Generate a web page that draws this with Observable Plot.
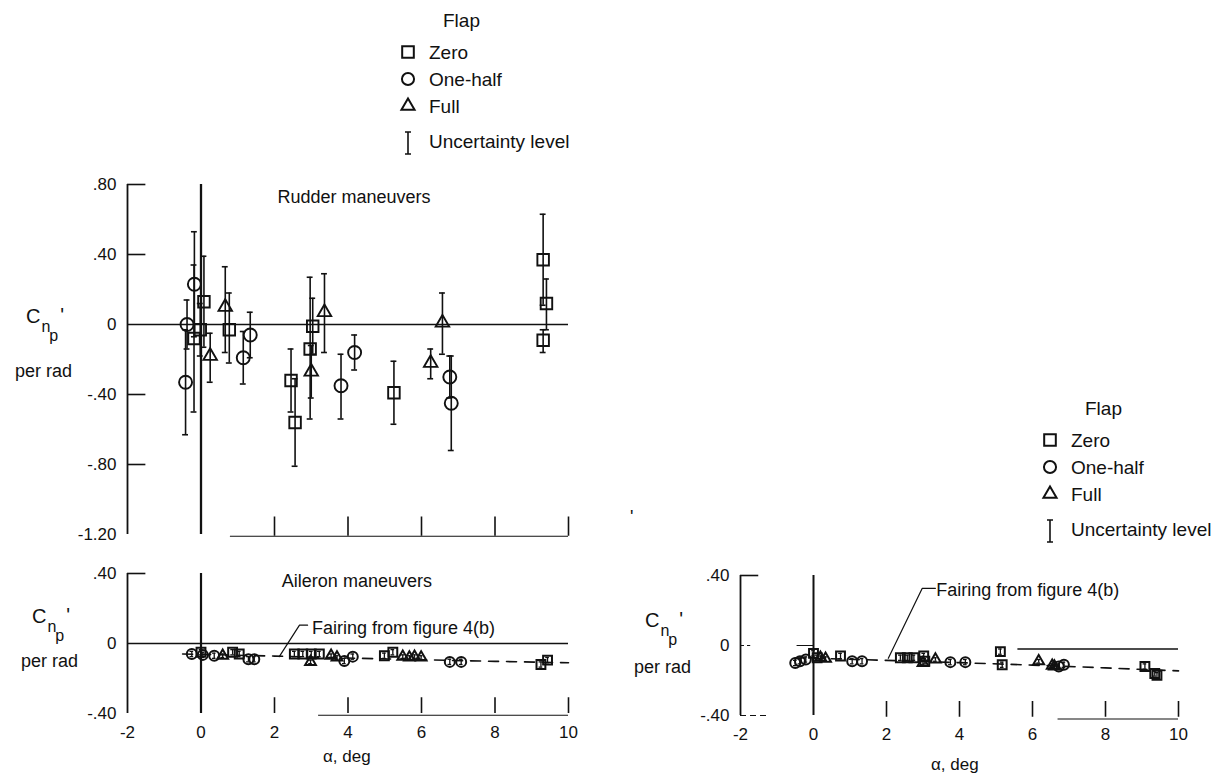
<!DOCTYPE html>
<html><head><meta charset="utf-8">
<script src="https://cdn.jsdelivr.net/npm/d3@7"></script>
<script src="https://cdn.jsdelivr.net/npm/@observablehq/plot@0.6"></script>
<style>
body{margin:0;background:#fff;}
#page{position:relative;width:1220px;height:776px;overflow:hidden;background:#fff;font-family:"Liberation Sans",Arial,sans-serif;color:#111;}
.abs{position:absolute;white-space:nowrap;line-height:1;}
</style></head><body><div id="page"></div>
<script>
// ---------- data ----------
const xTickValues = [-2, 0, 2, 4, 6, 8, 10];
const xTickLabels = ["-2", "0", "2", "4", "6", "8", "10"];
const yTopValues = [0.8, 0.4, 0, -0.4, -0.8, -1.2];
const yTopLabels = [".80", ".40", "0", "-.40", "-.80", "-1.20"];
const yBotValues = [0.4, 0, -0.4];
const yBotLabels = [".40", "0", "-.40"];
const flapNames = ["Zero", "One-half", "Full"];

// Rudder maneuvers: [alpha, Cnp, low, high]
const rudderZero = [
  [0.08, 0.13, -0.13, 0.39], [-0.19, -0.08, -0.50, 0.34], [-0.02, -0.03, -0.18, 0.12],
  [0.77, -0.03, -0.22, 0.18], [2.45, -0.32, -0.50, -0.14], [2.56, -0.56, -0.81, -0.31],
  [2.97, -0.14, -0.54, 0.27], [3.04, -0.01, -0.17, 0.15], [5.25, -0.39, -0.57, -0.21],
  [9.31, 0.37, 0.11, 0.63], [9.40, 0.12, -0.03, 0.26], [9.31, -0.09, -0.16, -0.03]
];
const rudderHalf = [
  [-0.38, 0.00, -0.14, 0.14], [-0.42, -0.33, -0.63, -0.03], [-0.18, 0.23, -0.07, 0.53],
  [1.15, -0.19, -0.34, -0.04], [1.34, -0.06, -0.19, 0.07], [3.81, -0.35, -0.54, -0.17],
  [4.18, -0.16, -0.26, -0.06], [6.77, -0.30, -0.42, -0.18], [6.81, -0.45, -0.72, -0.18]
];
const rudderFull = [
  [0.25, -0.18, -0.33, -0.05], [0.66, 0.10, -0.16, 0.33], [3.00, -0.27, -0.42, -0.12],
  [3.36, 0.07, -0.16, 0.29], [6.25, -0.22, -0.31, -0.14], [6.57, 0.01, -0.17, 0.18]
];

// Aileron maneuvers (left panel)
const aileronZero = [
  [0.00, -0.05, -0.065, -0.035], [0.86, -0.05, -0.065, -0.035], [1.04, -0.06, -0.075, -0.045],
  [2.54, -0.06, -0.075, -0.045], [2.77, -0.06, -0.075, -0.045], [3.00, -0.06, -0.075, -0.045],
  [3.22, -0.06, -0.075, -0.045], [4.99, -0.07, -0.085, -0.055], [5.22, -0.05, -0.065, -0.035],
  [9.25, -0.12, -0.135, -0.105], [9.43, -0.095, -0.11, -0.08]
];
const aileronHalf = [
  [-0.25, -0.06, -0.075, -0.045], [0.05, -0.065, -0.08, -0.05], [0.36, -0.07, -0.085, -0.055],
  [1.29, -0.09, -0.105, -0.075], [1.45, -0.09, -0.105, -0.075], [3.90, -0.10, -0.115, -0.085],
  [4.13, -0.075, -0.09, -0.06], [6.77, -0.105, -0.12, -0.09], [7.08, -0.105, -0.12, -0.09]
];
const aileronFull = [
  [0.59, -0.07, -0.08, -0.06], [2.98, -0.105, -0.115, -0.095], [3.54, -0.07, -0.08, -0.06],
  [3.70, -0.08, -0.09, -0.07], [5.49, -0.075, -0.085, -0.065], [5.67, -0.08, -0.09, -0.07],
  [5.81, -0.075, -0.085, -0.065], [5.99, -0.08, -0.09, -0.07]
];

// Aileron maneuvers (right panel)
const aileron2Zero = [
  [0.00, -0.045, -0.06, -0.03], [0.10, -0.07, -0.085, -0.055], [0.74, -0.06, -0.075, -0.045],
  [2.38, -0.07, -0.085, -0.055], [2.57, -0.07, -0.085, -0.055], [2.75, -0.07, -0.085, -0.055],
  [3.02, -0.06, -0.075, -0.045], [3.05, -0.09, -0.105, -0.075], [5.12, -0.035, -0.05, -0.02],
  [5.17, -0.11, -0.125, -0.095], [9.08, -0.12, -0.135, -0.105], [9.35, -0.16, -0.175, -0.145],
  [9.41, -0.17, -0.185, -0.155]
];
const aileron2Half = [
  [-0.50, -0.10, -0.115, -0.085], [-0.37, -0.09, -0.105, -0.075], [-0.21, -0.08, -0.095, -0.065],
  [1.06, -0.09, -0.105, -0.075], [1.33, -0.09, -0.105, -0.075], [3.75, -0.095, -0.11, -0.08],
  [4.16, -0.095, -0.11, -0.08], [6.72, -0.12, -0.135, -0.105], [6.86, -0.11, -0.125, -0.095]
];
const aileron2Full = [
  [0.19, -0.07, -0.08, -0.06], [0.33, -0.075, -0.085, -0.065], [3.00, -0.10, -0.11, -0.09],
  [3.34, -0.08, -0.09, -0.07], [6.17, -0.09, -0.10, -0.08], [6.54, -0.115, -0.125, -0.105],
  [6.60, -0.12, -0.13, -0.11]
];

// Fairing from figure 4(b)
const fairingAlpha = [-0.5, 0, 2, 4, 6, 8, 10];
const fairingLeft = [-0.060, -0.062, -0.072, -0.083, -0.093, -0.102, -0.110];
const fairingRight = [-0.070, -0.073, -0.085, -0.098, -0.112, -0.128, -0.145];

// ---------- helpers ----------
const FONT = '"Liberation Sans", Arial, sans-serif';
const INK = "#111";
const page = document.getElementById("page");

function fmt(values, labels) { return d => { const i = values.findIndex(v => Math.abs(v - d) < 1e-9); return i < 0 ? "" : labels[i]; }; }

function errorBars(rows, capW, sw) {
  return [
    Plot.ruleX(rows, {x: d => d[0], y1: d => d[2], y2: d => d[3], stroke: INK, strokeWidth: sw}),
    Plot.ruleY(rows, {y: d => d[2], x1: d => d[0] - capW, x2: d => d[0] + capW, stroke: INK, strokeWidth: sw}),
    Plot.ruleY(rows, {y: d => d[3], x1: d => d[0] - capW, x2: d => d[0] + capW, stroke: INK, strokeWidth: sw})
  ];
}
function symbols(rows, symbol, r, sw) {
  return Plot.dot(rows, {x: d => d[0], y: d => d[1], symbol, r, stroke: INK, fill: "none", strokeWidth: sw});
}
function panel(o) {
  const svg = Plot.plot({
    width: o.width, height: o.height,
    marginLeft: o.mL, marginRight: o.mR, marginTop: o.mT, marginBottom: o.mB,
    style: {fontFamily: FONT, fontSize: "17px", color: INK, background: "transparent", overflow: "visible"},
    x: Object.assign({domain: [-2, 10]}, o.showX
      ? {ticks: xTickValues, tickFormat: fmt(xTickValues, xTickLabels), tickSize: 0, tickPadding: 12, label: null}
      : {axis: null}),
    y: {domain: o.yDomain, ticks: o.yValues, tickFormat: fmt(o.yValues, o.yLabels), tickSize: 0, tickPadding: 11, label: null},
    marks: o.marks
  });
  svg.style.position = "absolute";
  svg.style.left = o.left + "px";
  svg.style.top = o.top + "px";
  page.appendChild(svg);
}
function addText(txt, left, top, size, extra) {
  const d = document.createElement("div");
  d.className = "abs";
  d.textContent = txt;
  d.style.left = left + "px"; d.style.top = top + "px"; d.style.fontSize = size + "px";
  if (extra) Object.assign(d.style, extra);
  page.appendChild(d);
  return d;
}
function yTitle(left, top, gap) {
  const d = document.createElement("div");
  d.className = "abs";
  d.style.left = left + "px"; d.style.top = top + "px"; d.style.fontSize = "20px";
  d.innerHTML = 'C<span style="font-size:16px;position:relative;top:9px;margin-left:1px">n</span>' +
    '<span style="font-size:16px;position:relative;top:18px;margin-left:-1px">p</span>' +
    '<span style="position:relative;top:-1px;margin-left:2px">\'</span>';
  page.appendChild(d);
  addText("per rad", left - 11, top + gap, 18);
}
function legend(left, top) {
  const rowY = [14, 41, 68];
  addText("Flap", left + 35, top - 41, 19);
  const syms = [d3.symbolSquare, d3.symbolCircle, d3.symbolTriangle];
  const sizes = [135, 115, 75];
  const ns = "http://www.w3.org/2000/svg";
  const svg = document.createElementNS(ns, "svg");
  svg.setAttribute("width", 30); svg.setAttribute("height", 130);
  svg.style.position = "absolute"; svg.style.left = (left - 15) + "px"; svg.style.top = (top - 14) + "px";
  flapNames.forEach((name, i) => {
    const p = document.createElementNS(ns, "path");
    p.setAttribute("d", d3.symbol(syms[i], sizes[i])());
    p.setAttribute("transform", `translate(15,${rowY[i]})`);
    p.setAttribute("fill", "none"); p.setAttribute("stroke", INK); p.setAttribute("stroke-width", 2);
    svg.appendChild(p);
    addText(name, left + 21, top - 14 + rowY[i] - 9.5, 19);
  });
  const bar = document.createElementNS(ns, "path");
  bar.setAttribute("d", "M15,94V116M12,94H18M12,116H18");
  bar.setAttribute("stroke", INK); bar.setAttribute("stroke-width", 1.6); bar.setAttribute("fill", "none");
  svg.appendChild(bar);
  page.appendChild(svg);
  addText("Uncertainty level", left + 21, top + 80, 19);
}

// ---------- top panel: rudder maneuvers ----------
const innerTicksTop = [0.8, 0.4, -0.4, -0.8];
const bottomTicks = [2, 4, 6, 8, 10];
panel({
  left: 0, top: 160, width: 600, height: 400, mL: 127, mR: 32, mT: 24, mB: 26,
  yDomain: [-1.2, 0.8], yValues: yTopValues, yLabels: yTopLabels, showX: false,
  marks: [
    Plot.ruleX([-2], {y1: -1.2, y2: 0.8, stroke: INK, strokeWidth: 1.8}),
    Plot.ruleY(innerTicksTop, {x1: -2, x2: -1.5, stroke: INK, strokeWidth: 1.6}),
    Plot.ruleY([0], {x1: -2, x2: 10, stroke: INK, strokeWidth: 1.5}),
    Plot.ruleX([0], {y1: -1.2, y2: 0.8, stroke: INK, strokeWidth: 2.3}),
    Plot.ruleX(bottomTicks, {y1: -1.21, y2: -1.1, stroke: INK, strokeWidth: 1.6}),
    Plot.ruleY([-1.21], {x1: 0.8, x2: 10, stroke: INK, strokeWidth: 1.2}),
    ...errorBars(rudderZero, 0.08, 1.6),
    ...errorBars(rudderHalf, 0.08, 1.6),
    ...errorBars(rudderFull, 0.08, 1.6),
    symbols(rudderZero, "square", 6.5, 1.9),
    symbols(rudderHalf, "circle", 6.5, 1.9),
    symbols(rudderFull, "triangle", 5, 1.9),
    Plot.text(["Rudder maneuvers"], {x: 2.08, y: 0.727, text: d => d, textAnchor: "start", fontSize: 18, fill: INK})
  ]
});

// ---------- bottom-left panel: aileron maneuvers ----------
const leaderLeft = [[2.13, -0.075], [2.68, 0.105], [2.90, 0.105]];
panel({
  left: 0, top: 560, width: 600, height: 216, mL: 127, mR: 32, mT: 13, mB: 63,
  yDomain: [-0.4, 0.4], yValues: yBotValues, yLabels: yBotLabels, showX: true,
  marks: [
    Plot.ruleX([-2], {y1: -0.4, y2: 0.4, stroke: INK, strokeWidth: 1.8}),
    Plot.ruleY([0.4], {x1: -2, x2: -1.5, stroke: INK, strokeWidth: 1.6}),
    Plot.ruleY([0], {x1: -2, x2: 10, stroke: INK, strokeWidth: 1.4}),
    Plot.ruleX([0], {y1: -0.4, y2: 0.4, stroke: INK, strokeWidth: 2.2}),
    Plot.ruleX(bottomTicks, {y1: -0.4, y2: -0.31, stroke: INK, strokeWidth: 1.6}),
    Plot.ruleY([-0.41], {x1: 3.2, x2: 10, stroke: INK, strokeWidth: 1.2}),
    Plot.line(fairingAlpha, {x: d => d, y: (d, i) => fairingLeft[i], stroke: INK, strokeWidth: 1.6, strokeDasharray: "10,8"}),
    Plot.line(leaderLeft, {x: d => d[0], y: d => d[1], stroke: INK, strokeWidth: 1.2}),
    Plot.text(["Fairing from figure 4(b)"], {x: 3.02, y: 0.086, text: d => d, textAnchor: "start", fontSize: 18, fill: INK}),
    Plot.text(["Aileron maneuvers"], {x: 2.2, y: 0.354, text: d => d, textAnchor: "start", fontSize: 18, fill: INK}),
    ...errorBars(aileronZero, 0.05, 1.3),
    ...errorBars(aileronHalf, 0.05, 1.3),
    ...errorBars(aileronFull, 0.05, 1.3),
    symbols(aileronZero, "square", 5, 2),
    symbols(aileronHalf, "circle", 5, 2),
    symbols(aileronFull, "triangle", 4, 2)
  ]
});

// ---------- bottom-right panel ----------
const leaderRight = [[2.05, -0.073], [2.98, 0.327], [3.34, 0.327]];
panel({
  left: 600, top: 560, width: 620, height: 216, mL: 140, mR: 42, mT: 15, mB: 61,
  yDomain: [-0.4, 0.4], yValues: yBotValues, yLabels: yBotLabels, showX: true,
  marks: [
    Plot.ruleX([-2], {y1: -0.4, y2: 0.4, stroke: INK, strokeWidth: 1.8}),
    Plot.ruleY([0.4], {x1: -2, x2: -1.5, stroke: INK, strokeWidth: 1.6}),
    Plot.ruleY([0], {x1: -2, x2: -1.72, stroke: INK, strokeWidth: 1, strokeDasharray: "4,3"}),
    Plot.ruleY([0], {x1: -0.45, x2: 0, stroke: INK, strokeWidth: 1}),
    Plot.ruleY([-0.4], {x1: -2, x2: -1.2, stroke: INK, strokeWidth: 1.2, strokeDasharray: "6,4"}),
    Plot.ruleX([0], {y1: -0.4, y2: 0.4, stroke: INK, strokeWidth: 2}),
    Plot.ruleX(bottomTicks, {y1: -0.41, y2: -0.32, stroke: INK, strokeWidth: 1.6}),
    Plot.ruleY([-0.42], {x1: 6.7, x2: 10, stroke: INK, strokeWidth: 1.2}),
    Plot.ruleY([-0.02], {x1: 5.6, x2: 10, stroke: INK, strokeWidth: 1.4}),
    Plot.line(fairingAlpha, {x: d => d, y: (d, i) => fairingRight[i], stroke: INK, strokeWidth: 1.6, strokeDasharray: "10,8"}),
    Plot.line(leaderRight, {x: d => d[0], y: d => d[1], stroke: INK, strokeWidth: 1.2}),
    Plot.text(["Fairing from figure 4(b)"], {x: 3.36, y: 0.317, text: d => d, textAnchor: "start", fontSize: 18, fill: INK}),
    ...errorBars(aileron2Zero, 0.05, 1.3),
    ...errorBars(aileron2Half, 0.05, 1.3),
    ...errorBars(aileron2Full, 0.05, 1.3),
    symbols(aileron2Zero, "square", 5, 2),
    symbols(aileron2Half, "circle", 5, 2),
    symbols(aileron2Full, "triangle", 4, 2)
  ]
});

// ---------- titles, axis labels, legends ----------
yTitle(26, 306, 56);
yTitle(32, 606, 46);
yTitle(645, 610, 48);
addText("\u03b1, deg", 323, 748, 17);
addText("\u03b1, deg", 931, 756, 17);
addText("'", 630, 508, 18);
legend(408, 52);
legend(1050, 440);
</script>
</body></html>
